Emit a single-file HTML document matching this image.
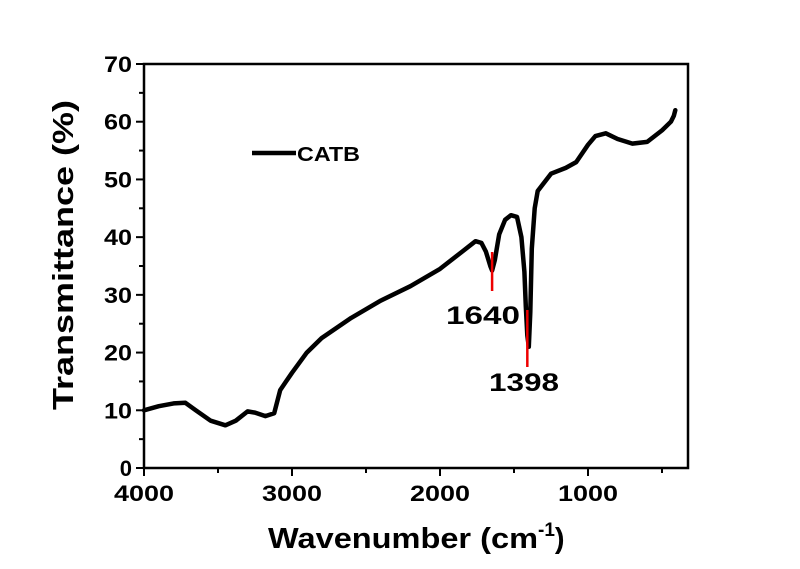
<!DOCTYPE html>
<html><head><meta charset="utf-8"><style>
body{margin:0;background:#fff;width:800px;height:564px;overflow:hidden}
text{font-family:"Liberation Sans",Arial,sans-serif;font-weight:bold}
</style></head><body>
<svg id="chart" width="800" height="564" viewBox="0 0 800 564">
<g id="axes"></g><g id="series"></g><g id="annot"></g>
</svg>
<script>
const wavenumbers=[4000,3900,3800,3720,3650,3550,3450,3380,3300,3250,3180,3120,3080,3040,3000,2900,2800,2600,2400,2200,2000,1850,1760,1720,1690,1660,1648,1630,1600,1560,1520,1480,1450,1430,1420,1410,1400,1390,1380,1360,1340,1250,1150,1080,1000,950,880,800,700,600,500,440,420,410];
const transmittance=[10,10.7,11.2,11.3,10,8.2,7.4,8.2,9.8,9.6,9,9.5,13.5,15,16.5,20,22.5,26,29,31.5,34.5,37.5,39.3,39,37.5,35,34.2,36,40.5,43,43.8,43.5,40,34,28,23,21,27,38,45,48,51,52,53,56,57.5,58,57,56.2,56.5,58.5,60,61,62];
const xTicks=[4000,3000,2000,1000];
const yTicks=[0,10,20,30,40,50,60,70];
const peaks=[1648,1410];
const peakLabels=["1640","1398"];
const NS="http://www.w3.org/2000/svg";
const L=144,R=688,T=64,B=468;
const X=v=>L+(4000-v)*0.148;
const Y=v=>B-v*(B-T)/70;
function mk(tag,attrs,parent,txt){const e=document.createElementNS(NS,tag);for(const k in attrs)e.setAttribute(k,attrs[k]);if(txt!==undefined)e.textContent=txt;document.getElementById(parent).appendChild(e);return e;}
let f=mk('rect',{x:L,y:T,width:R-L,height:B-T,fill:'none',stroke:'#000','stroke-width':2.5},'axes');


xTicks.forEach(v=>{
 let t=mk('line',{x1:X(v),x2:X(v),y1:B,y2:B+8,stroke:'#000','stroke-width':2},'axes');
 
 
 let m=mk('line',{x1:X(v-500),x2:X(v-500),y1:B,y2:B+5,stroke:'#000','stroke-width':2},'axes');
 
 
 let l=mk('text',{x:X(v),y:B+33,'text-anchor':'middle','font-size':22,textLength:60,lengthAdjust:'spacingAndGlyphs'},'axes',v);
 
 
});
yTicks.forEach(v=>{
 let t=mk('line',{x1:L-8,x2:L,y1:Y(v),y2:Y(v),stroke:'#000','stroke-width':2},'axes');
 
 
 if(v<70){let m=mk('line',{x1:L-5,x2:L,y1:Y(v+5),y2:Y(v+5),stroke:'#000','stroke-width':2},'axes');
 
 }
 let attrs={x:L-12,y:Y(v)+8,'text-anchor':'end','font-size':22};
 if(v>0){attrs.textLength=28;attrs.lengthAdjust='spacingAndGlyphs';}
 let l=mk('text',attrs,'axes',v);
 
 
});
let xt=mk('text',{x:268,y:548,'font-size':29},'axes');


xt.innerHTML='<tspan textLength="270" lengthAdjust="spacingAndGlyphs">Wavenumber (cm</tspan><tspan dy="-12" font-size="19">-1</tspan><tspan dy="12">)</tspan>';
let yt=mk('text',{x:0,y:0,'text-anchor':'middle','font-size':29,textLength:310,lengthAdjust:'spacingAndGlyphs',transform:'translate(73,255) rotate(-90)'},'axes','Transmittance (%)');


let d=wavenumbers.map((w,i)=>(i?'L':'M')+X(w).toFixed(1)+','+Y(transmittance[i]).toFixed(1)).join(' ');
let p=mk('path',{d:d,fill:'none',stroke:'#000','stroke-width':4.5,'stroke-linejoin':'round','stroke-linecap':'round'},'series');


let ll=mk('line',{x1:252,x2:296,y1:153,y2:153,stroke:'#000','stroke-width':4.5},'annot');


let lt=mk('text',{x:297,y:161,'font-size':20,textLength:63,lengthAdjust:'spacingAndGlyphs'},'annot','CATB');


let r1=mk('line',{x1:X(peaks[0]),x2:X(peaks[0]),y1:252,y2:291,stroke:'#e00','stroke-width':2.5},'annot');


let r2=mk('line',{x1:X(peaks[1]),x2:X(peaks[1]),y1:310,y2:367,stroke:'#e00','stroke-width':2.5},'annot');


let a1=mk('text',{x:446,y:324,'font-size':25,textLength:74,lengthAdjust:'spacingAndGlyphs'},'annot',peakLabels[0]);


let a2=mk('text',{x:489,y:391,'font-size':25,textLength:70,lengthAdjust:'spacingAndGlyphs'},'annot',peakLabels[1]);


</script>
</body></html>
